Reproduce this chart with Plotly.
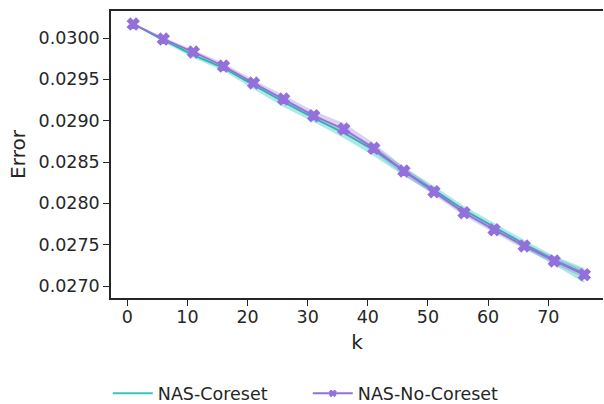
import plotly.graph_objects as go

# Number of selected items k
k = [1, 6, 11, 16, 21, 26, 31, 36, 41, 46, 51, 56, 61, 66, 71, 76]

# NAS-Coreset: mean error and band bounds
coreset_mean = [0.030169, 0.029976, 0.029794, 0.029637, 0.029431, 0.029226,
                0.029032, 0.028851, 0.028645, 0.028391, 0.028161, 0.027919,
                0.027714, 0.027508, 0.027315, 0.027152]
coreset_upper = [0.030175, 0.030000, 0.029819, 0.029661, 0.029468, 0.029274,
                 0.029081, 0.028899, 0.028694, 0.028440, 0.028210, 0.027968,
                 0.027762, 0.027556, 0.027363, 0.027218]
coreset_lower = [0.030163, 0.029952, 0.029758, 0.029601, 0.029383, 0.029165,
                 0.028984, 0.028790, 0.028573, 0.028331, 0.028113, 0.027871,
                 0.027665, 0.027460, 0.027254, 0.027036]

# NAS-No-Coreset: mean error and band bounds
nocoreset_mean = [0.030169, 0.029988, 0.029831, 0.029661, 0.029456, 0.029262,
                  0.029060, 0.028899, 0.028666, 0.028391, 0.028141, 0.027887,
                  0.027681, 0.027484, 0.027303, 0.027137]
nocoreset_upper = [0.030181, 0.030012, 0.029855, 0.029698, 0.029492, 0.029310,
                   0.029117, 0.028972, 0.028730, 0.028440, 0.028185, 0.027931,
                   0.027726, 0.027520, 0.027351, 0.027194]
nocoreset_lower = [0.030157, 0.029964, 0.029806, 0.029637, 0.029419, 0.029226,
                   0.029020, 0.028851, 0.028621, 0.028343, 0.028101, 0.027847,
                   0.027641, 0.027448, 0.027267, 0.027097]

y_ticks = [0.0270, 0.0275, 0.0280, 0.0285, 0.0290, 0.0295, 0.0300]
x_ticks = [0, 10, 20, 30, 40, 50, 60, 70]

TEAL = "#25b8aa"
TEAL_FILL = "rgba(64,208,196,0.45)"
PURPLE = "#9370DB"
PURPLE_FILL = "rgba(147,112,219,0.32)"
INK = "#262626"
FONT = "DejaVu Sans"

fig = go.Figure()

# NAS-Coreset band and mean line
fig.add_trace(go.Scatter(x=k + k[::-1], y=coreset_upper + coreset_lower[::-1],
                         fill="toself", fillcolor=TEAL_FILL, line=dict(width=0),
                         mode="lines", hoverinfo="skip", showlegend=False))
fig.add_trace(go.Scatter(x=k, y=coreset_mean, mode="lines",
                         line=dict(color=TEAL, width=1.8), showlegend=False))

# NAS-No-Coreset band and mean line with markers
fig.add_trace(go.Scatter(x=k + k[::-1], y=nocoreset_upper + nocoreset_lower[::-1],
                         fill="toself", fillcolor=PURPLE_FILL, line=dict(width=0),
                         mode="lines", hoverinfo="skip", showlegend=False))
fig.add_trace(go.Scatter(x=k, y=nocoreset_mean, mode="lines+markers",
                         line=dict(color=PURPLE, width=1.8),
                         marker=dict(symbol="x", size=10, color=PURPLE,
                                     line=dict(width=1.5, color=PURPLE)),
                         showlegend=False))

# Legend entries
fig.add_trace(go.Scatter(x=[None], y=[None], mode="lines", name="NAS-Coreset",
                         line=dict(color="#3cc4ba", width=2)))
fig.add_trace(go.Scatter(x=[None], y=[None], mode="lines+markers",
                         name="NAS-No-Coreset",
                         line=dict(color=PURPLE, width=2),
                         marker=dict(symbol="x", size=6, color=PURPLE,
                                     line=dict(width=1, color=PURPLE))))

fig.update_layout(
    width=604, height=404,
    margin=dict(l=111, r=1, t=11, b=106, autoexpand=False),
    paper_bgcolor="white", plot_bgcolor="white",
    font=dict(family=FONT, size=17.5, color=INK),
    showlegend=True,
    legend=dict(orientation="h", x=0.40, xanchor="center", y=-0.27,
                yanchor="top", font=dict(size=17.5, color=INK),
                bgcolor="rgba(0,0,0,0)", itemwidth=40,
                entrywidth=145, entrywidthmode="pixels"),
    xaxis=dict(range=[-2.7, 79.1], tickvals=x_ticks, ticks="outside",
               ticklen=6, tickwidth=1.3, tickcolor=INK, showline=True,
               linecolor=INK, linewidth=1.5, mirror=True, showgrid=False,
               zeroline=False, ticklabelstandoff=-4,
               title=dict(text="k", font=dict(size=20), standoff=9)),
    yaxis=dict(range=[0.026855, 0.030327], tickvals=y_ticks,
               tickformat=".4f", ticks="outside", ticklen=6, tickwidth=1.3,
               tickcolor=INK, showline=True, linecolor=INK, linewidth=1.5,
               showgrid=False, zeroline=False,
               title=dict(text="Error", font=dict(size=20), standoff=8)),
)

fig.write_html("out.html")
